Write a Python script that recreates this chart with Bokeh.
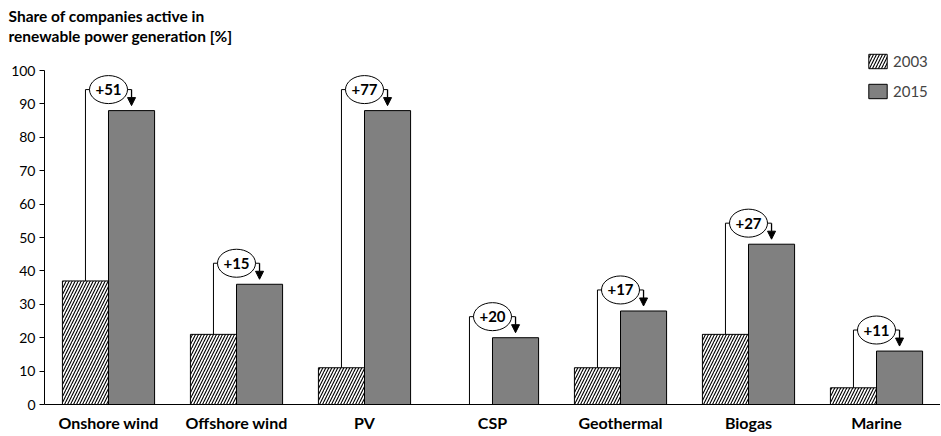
from bokeh.plotting import figure
from bokeh.models import (ColumnDataSource, Range1d, FixedTicker, Legend, LegendItem,
                          Title, Arrow, NormalHead)
from bokeh.core.properties import value
from bokeh.embed import file_html
from bokeh.resources import INLINE

# ---- data ----
categories = ["Onshore wind", "Offshore wind", "PV", "CSP", "Geothermal", "Biogas", "Marine"]
share_2003 = [37, 21, 11, 0, 11, 21, 5]
share_2015 = [88, 36, 88, 20, 28, 48, 16]
y_ticks = [0, 10, 20, 30, 40, 50, 60, 70, 80, 90, 100]
series_names = ["2003", "2015"]
title_lines = ["Share of companies active in", "renewable power generation [%]"]

FONT = "Lato"
n = len(categories)
OFF = 0.18
BW = 0.36
centers = [i + 0.5 for i in range(n)]
x03 = [c - OFF for c in centers]
x15 = [c + OFF for c in centers]
changes = [b - a for a, b in zip(share_2003, share_2015)]
labels = ["+%d" % d for d in changes]
level = [v + 6.3 for v in share_2015]
tip = [v + 1.5 for v in share_2015]

src = ColumnDataSource(dict(c=centers, x03=x03, x15=x15, v03=share_2003, v15=share_2015,
                            level=level, tip=tip, lab=labels))

p = figure(width=940, height=434, x_range=Range1d(0, n), y_range=Range1d(0, 107.8),
           output_backend="svg", toolbar_location=None,
           min_border_left=44, min_border_right=0, min_border_top=44, min_border_bottom=30)

r03 = p.vbar(x="x03", top="v03", width=BW, source=src, fill_color="white",
             line_color="black", line_width=1,
             hatch_pattern="right_diagonal_line", hatch_color="black",
             hatch_scale=6, hatch_weight=1.1)
r15 = p.vbar(x="x15", top="v15", width=BW, source=src, fill_color="#808080",
             line_color="black", line_width=1)

# brackets
p.segment(x0="x03", y0="v03", x1="x03", y1="level", source=src, line_color="black", line_width=1)
p.segment(x0="x03", y0="level", x1="x15", y1="level", source=src, line_color="black", line_width=1)
p.ellipse(x="c", y="level", width=38, height=28, width_units="screen", height_units="screen",
          source=src, fill_color="white", line_color="black", line_width=1)
p.text(x="c", y="level", text="lab", source=src, text_align="center", text_baseline="middle",
       text_font=value(FONT), text_font_style="bold", text_font_size="15px", text_color="black")
p.add_layout(Arrow(end=NormalHead(size=8, fill_color="black", line_color="black", line_width=1),
                   x_start="x15", y_start="level", x_end="x15", y_end="tip", source=src,
                   line_color="black", line_width=1.3))

legend = Legend(items=[LegendItem(label=series_names[0], renderers=[r03]),
                       LegendItem(label=series_names[1], renderers=[r15])],
                location=(822, 304), border_line_color=None, background_fill_alpha=0,
                glyph_width=23, glyph_height=18, spacing=12, label_standoff=4,
                label_text_font=FONT, label_text_font_size="15px", padding=4, margin=0)
p.add_layout(legend)

# titles (last added is topmost)
for line in reversed(title_lines):
    p.add_layout(Title(text=line, align="left", offset=-36, standoff=0,
                       text_font=FONT, text_font_style="bold", text_font_size="15.5px",
                       text_color="black"), "above")

p.xgrid.visible = False
p.ygrid.visible = False
p.outline_line_color = None

p.yaxis.ticker = FixedTicker(ticks=y_ticks)
p.yaxis.bounds = (0, 100)
p.yaxis.major_tick_out = 5
p.yaxis.major_tick_in = 0
p.yaxis.minor_tick_line_color = None
p.yaxis.major_label_text_font = FONT
p.yaxis.major_label_text_font_size = "14px"
p.yaxis.major_label_text_color = "black"
p.yaxis.axis_line_color = "black"
p.yaxis.major_tick_line_color = "black"
p.yaxis.major_label_standoff = 4

p.xaxis.ticker = FixedTicker(ticks=centers)
p.xaxis.major_label_overrides = {c: name for c, name in zip(centers, categories)}
p.xaxis.major_tick_out = 0
p.xaxis.major_tick_in = 0
p.xaxis.minor_tick_line_color = None
p.xaxis.major_label_text_font = FONT
p.xaxis.major_label_text_font_style = "bold"
p.xaxis.major_label_text_font_size = "16px"
p.xaxis.major_label_text_color = "black"
p.xaxis.axis_line_color = "black"
p.xaxis.major_label_standoff = 8

open("out.html", "w").write(file_html(p, INLINE))
